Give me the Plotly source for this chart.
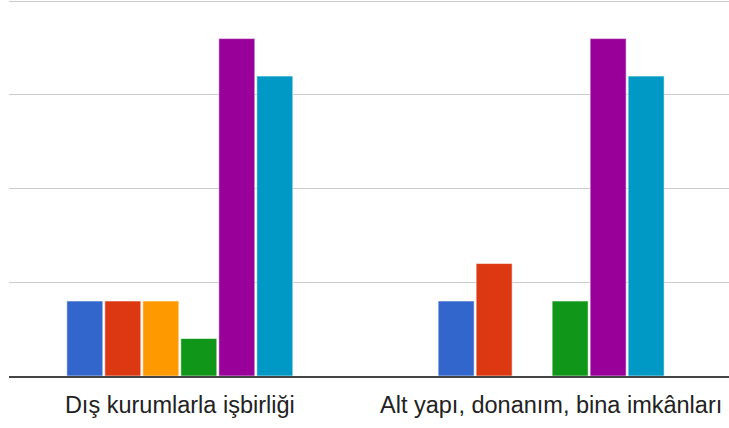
import plotly.graph_objects as go

categories = ["Dış kurumlarla işbirliği", "Alt yapı, donanım, bina imkânları"]
series_names = ["1", "2", "3", "4", "5", "6"]
series_values = [
    [4, 4],
    [4, 6],
    [4, 0],
    [2, 4],
    [18, 18],
    [16, 16],
]
colors = ["#3366cc", "#dc3912", "#ff9900", "#109618", "#990099", "#0099c6"]
y_ticks = [0, 5, 10, 15, 20]

fig = go.Figure()
for name, vals, col in zip(series_names, series_values, colors):
    fig.add_trace(go.Bar(
        x=categories, y=vals, name=name,
        marker=dict(color=col, line=dict(color="rgba(255,255,255,0.55)", width=1)),
    ))

fig.update_layout(
    width=729, height=428,
    margin=dict(l=9, r=0, t=0, b=52, autoexpand=False),
    paper_bgcolor="white", plot_bgcolor="white",
    barmode="group", bargap=0.386, bargroupgap=0.053,
    showlegend=False,
    font=dict(family="Liberation Sans, Arial, sans-serif", size=24, color="#222222"),
)
fig.update_xaxes(
    range=[-0.46, 1.479], showline=True, linecolor="#444444", linewidth=2,
    ticks="", showgrid=False, zeroline=False, automargin=False,
    tickfont=dict(size=23.5, color="#222222"), ticklabelstandoff=7,
)
fig.update_yaxes(
    range=[0, 20.06], tickvals=y_ticks, showticklabels=False, automargin=False,
    showgrid=True, gridcolor="#cccccc", gridwidth=1, zeroline=False,
)
fig.write_html(
    "out.html",
    config={"displayModeBar": False},
    post_script="document.body.style.margin='0';document.body.style.overflow='hidden';",
)
